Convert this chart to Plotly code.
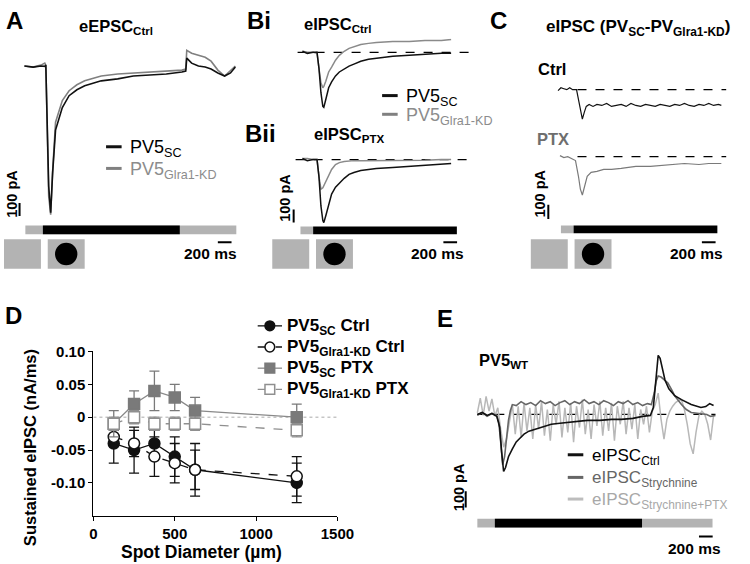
import plotly.graph_objects as go

W, H = 750, 564
FONT = "Liberation Sans, Arial, Helvetica, sans-serif"

# ======================= DATA =======================
# Panel A : eEPSC (Ctrl), time (ms) vs current (pA)
A_T = [-270, -142, -28, 28, 43, 64, 85, 114, 142, 185, 241, 284, 383, 497, 611, 852, 1093, 1321, 1562,
       1803, 2031, 2087, 2102, 2173, 2272, 2371, 2457, 2556, 2655, 2741, 2812]
A_SC = [8, 0, 8, 5, 15, -458, -908, -1110, -810, -480, -383, -308, -218, -173, -143, -105, -90, -68, -60,
        -53, -38, -30, 68, 30, 8, 0, -15, -45, -68, -45, 0]
A_KD = [8, 0, 15, 30, 15, -533, -983, -1125, -795, -420, -323, -255, -180, -135, -105, -68, -53, -45, -38,
        -30, -23, -15, 128, 105, 90, 75, 45, -23, -68, -30, 8]

# Panel B : eIPSC Ctrl (Bi) and PTX (Bii)
B_T = [-156, -85, 0, 57, 85, 114, 142, 156, 185, 227, 270, 327, 383, 454, 525, 596, 696, 809, 923, 1164,
       1406, 1633, 1874, 2016]
BI_SC = [8, -8, 0, 0, -120, -308, -413, -420, -360, -270, -225, -180, -150, -128, -105, -90, -68, -53, -45,
         -30, -23, -15, -8, -8]
BI_KD = [8, 0, 0, -8, -120, -233, -270, -260, -220, -150, -113, -60, -23, 8, 30, 45, 60, 68, 75, 83, 83,
         90, 90, 98]
BII_SC = [8, -8, 0, 0, -128, -353, -465, -480, -428, -338, -263, -210, -180, -143, -113, -98, -83, -75, -68,
          -60, -53, -45, -38, -30]
BII_KD = [8, 8, 0, 0, -128, -225, -215, -200, -160, -115, -75, -38, -23, -15, -10, -8, -8, -8, -8, -8, -8,
          -5, 0, 0]

# Panel C : eIPSC difference (PV_SC - PV_Glra1-KD)
C_CTRL_T = [-227, -185, -142, -99, -57, -14, 43, 71, 99, 128, 156, 185, 227, 284, 341, 412, 483, 554, 625,
            696, 767, 838, 909, 980, 1051, 1122, 1193, 1264, 1335, 1406, 1477, 1548, 1619, 1690, 1761,
            1832, 1903, 1974, 2045, 2116, 2158]
C_CTRL = [-7, 14, 7, 0, 14, 0, 0, -70, -161, -210, -161, -119, -105, -119, -105, -112, -98, -119, -112,
          -105, -119, -98, -112, -119, -105, -112, -119, -105, -112, -119, -105, -112, -98, -112, -119,
          -105, -112, -98, -112, -105, -112]
C_PTX_T = [-199, -142, -85, -28, 28, 71, 99, 128, 156, 199, 256, 341, 440, 554, 696, 909, 1122, 1335, 1619,
           1832, 1974, 2158]
C_PTX = [7, -7, 0, -14, -28, -140, -231, -273, -224, -140, -112, -105, -91, -91, -84, -70, -70, -63, -49,
         -56, -49, -49]

# Panel D : sustained eIPSC vs spot diameter
DIAM = [125, 250, 375, 500, 625, 1250]
SC_CTRL = [-0.04, -0.05, -0.04, -0.06, -0.08, -0.10]
SC_CTRL_ERR = [0.03, 0.035, 0.02, 0.03, 0.04, 0.03]
KD_CTRL = [-0.03, -0.04, -0.06, -0.07, -0.08, -0.09]
KD_CTRL_ERR = [0.01, 0.02, 0.03, 0.03, 0.03, 0.03]
SC_PTX = [-0.01, 0.02, 0.04, 0.03, 0.01, 0.00]
SC_PTX_ERR = [0.02, 0.02, 0.03, 0.02, 0.02, 0.02]
KD_PTX = [-0.01, 0.00, -0.01, -0.01, -0.01, -0.02]
KD_PTX_ERR = [0.01, 0.01, 0.01, 0.01, 0.01, 0.01]
D_XTICKS = [0, 500, 1000, 1500]
D_YTICKS = [-0.10, -0.05, 0, 0.05, 0.10]
D_YTICKTEXT = ["-0.10", "-0.05", "0", "0.05", "0.10"]
D_NAMES = ["PV5<sub>SC</sub> Ctrl", "PV5<sub>Glra1-KD</sub> Ctrl", "PV5<sub>SC</sub> PTX",
           "PV5<sub>Glra1-KD</sub> PTX"]

# Panel E : PV5 WT eIPSC
E_CTRL_T = [-256, -185, -114, -43, 28, 71, 99, 114, 128, 156, 199, 256, 312, 355, 426, 497, 596, 710, 824,
            951, 1065, 1207, 1349, 1534, 1704, 1846, 2016, 2158, 2272, 2315, 2357, 2386, 2414, 2457, 2485,
            2542, 2584, 2627, 2726, 2868, 3010, 3081, 3138, 3195]
E_CTRL = [0, 12, -6, 6, -12, -78, -228, -318, -348, -324, -258, -210, -168, -150, -120, -102, -90, -72, -60,
          -54, -48, -42, -36, -36, -30, -30, -24, -12, -6, 42, 252, 360, 342, 264, 210, 156, 132, 114, 90,
          60, 42, 48, 66, 54]
E_STRY_T = [-256, -185, -114, -43, 28, 57, 85, 114, 142, 170, 199, 227, 256, 312, 383, 454, 525, 596, 667,
            738, 809, 880, 951, 1022, 1093, 1164, 1235, 1306, 1377, 1448, 1519, 1590, 1661, 1732, 1803,
            1874, 1945, 2016, 2087, 2158, 2229, 2286, 2329, 2357, 2386, 2428, 2485, 2528, 2584, 2627,
            2726, 2797, 2868, 2982, 3096, 3152, 3223]
E_STRY = [-6, 12, -12, 6, -6, -48, -168, -306, -258, -138, -36, 24, 60, 54, 78, 60, 72, 54, 84, 66, 78, 54,
          72, 84, 60, 78, 66, 90, 66, 78, 60, 84, 72, 54, 78, 66, 84, 60, 72, 54, 66, 60, 132, 204, 234,
          228, 210, 192, 150, 114, 60, 30, 12, 6, 0, -12, -6]
E_SP_T = [-256, -213, -170, -128, -85, -43, 0, 43, 85, 128,
          170, 213, 256, 298, 341, 384, 426, 469, 511, 554,
          596, 639, 682, 724, 767, 810, 852, 895, 937, 980,
          1023, 1065, 1108, 1150, 1193, 1236, 1278, 1321, 1363, 1406,
          1449, 1491, 1534, 1576, 1619, 1662, 1704, 1747, 1789, 1832,
          1875, 1917, 1960, 2002, 2045, 2088, 2130, 2173, 2215, 2258,
          2300, 2343, 2386, 2428, 2471, 2513, 2556, 2598, 2641, 2684,
          2726, 2769, 2811, 2854, 2897, 2939, 2982, 3024, 3067, 3110,
          3152, 3195]
E_SP = [10, 100, -6, 110, 20, 95, -10, 40, -90, -200,
        -150, -40, 60, -120, 50, -140, 70, -100, 40, -150,
        60, -90, 80, -130, 30, -160, 60, -60, 80, -140,
        40, -110, 70, -170, 50, -80, 90, -120, 30, -150,
        60, -70, 80, -130, 40, -100, 70, -160, 50, -60,
        80, -120, 40, -90, 60, -150, 30, -60, 50, -110,
        20, 60, 130, -30, -150, -30, 20, 50, 72, 85,
        90, 30, -60, -180, -240, -108, -6, 20, 0, -60,
        -156, -6]

# stimulus timing (ms): [pre-window start, light on, light off, window end]
STIM_A = [-256, 0, 2000, 2826]
STIM_B = [-185, 0, 2100, 2100]
STIM_C = [-185, 0, 2100, 2100]
STIM_E = [-256, 0, 2150, 3180]
SCALE_MS = 200
SCALE_PA = 100

# ======================= HELPERS =======================
def px(x):
    return x / W


def py(y):
    return 1 - y / H


annotations = []
shapes = []


def ann(text, x, y, size, bold=True, color="black", xanchor="center", yanchor="middle", angle=0):
    if bold:
        text = "<b>" + text + "</b>"
    annotations.append(dict(text=text, x=px(x), y=py(y), xref="paper", yref="paper", showarrow=False,
                            xanchor=xanchor, yanchor=yanchor, textangle=angle,
                            font=dict(family=FONT, size=size, color=color)))


def rect(x0, y0, x1, y1, color, xref="paper", yref="paper", lcolor=None, lw=0):
    shapes.append(dict(type="rect", x0=x0, x1=x1, y0=y0, y1=y1, xref=xref, yref=yref,
                       line=dict(width=lw, color=lcolor or color), fillcolor=color))


def line(x0, y0, x1, y1, color="black", width=1.5, dash="solid", xref="paper", yref="paper", layer="above"):
    shapes.append(dict(type="line", x0=x0, x1=x1, y0=y0, y1=y1, xref=xref, yref=yref, layer=layer,
                       line=dict(color=color, width=width, dash=dash)))


STIMGRAY = "#b3b3b3"

fig = go.Figure()


def trace(t, v, xa, ya, color, width=1.5):
    fig.add_trace(go.Scatter(x=t, y=v, xaxis=xa, yaxis=ya, mode="lines", showlegend=False,
                             line=dict(color=color, width=width), hoverinfo="skip"))


# ======================= PANEL A =======================
trace(A_T, A_KD, "x", "y", "#808080", 1.6)
trace(A_T, A_SC, "x", "y", "#111111", 1.6)

# ======================= PANEL B =======================
trace(B_T, BI_KD, "x2", "y2", "#8a8a8a", 1.5)
trace(B_T, BI_SC, "x2", "y2", "#111111", 1.5)
trace(B_T, BII_KD, "x2", "y3", "#8a8a8a", 1.5)
trace(B_T, BII_SC, "x2", "y3", "#111111", 1.5)

# ======================= PANEL C =======================
trace(C_CTRL_T, C_CTRL, "x3", "y4", "#111111", 1.2)
trace(C_PTX_T, C_PTX, "x3", "y5", "#7a7a7a", 1.2)

# ======================= PANEL E =======================
trace(E_SP_T, E_SP, "x5", "y7", "#b8b8b8", 1.5)
trace(E_STRY_T, E_STRY, "x5", "y7", "#666666", 1.6)
trace(E_CTRL_T, E_CTRL, "x5", "y7", "#111111", 1.6)

# ======================= PANEL D =======================
D_STYLES = [
    # marker line colour, symbol, line dash, marker fill, line colour
    ("#111111", "circle", "solid", "#111111", "#111111"),
    ("#111111", "circle", "dash", "white", "#111111"),
    ("#7a7a7a", "square", "solid", "#7a7a7a", "#8a8a8a"),
    ("#8f8f8f", "square", "dash", "white", "#8f8f8f"),
]
D_SERIES = [(SC_CTRL, SC_CTRL_ERR), (KD_CTRL, KD_CTRL_ERR), (SC_PTX, SC_PTX_ERR), (KD_PTX, KD_PTX_ERR)]
for (yv, err), name, (mc, sym, dash, fill, lc) in zip(D_SERIES, D_NAMES, D_STYLES):
    fig.add_trace(go.Scatter(
        x=DIAM, y=yv, xaxis="x4", yaxis="y6", name=name, mode="lines+markers", showlegend=False,
        line=dict(color=lc, width=1.3, dash=dash),
        marker=dict(symbol=sym, size=11, color=fill, line=dict(color=mc, width=1.5)),
        error_y=dict(type="data", array=err, color=mc, thickness=1.3, width=5),
        cliponaxis=False, hoverinfo="skip"))

# zero reference line in D
line(0, 0, 1500, 0, color="#aaaaaa", width=1, dash="dot", xref="x4", yref="y6", layer="below")

# hand-built legend for D
for i, (name, (mc, sym, dash, fill, lc)) in enumerate(zip(D_NAMES, D_STYLES)):
    yy = 322 + i * 21.5
    line(px(261), py(yy), px(286), py(yy), color=lc, width=1.3, dash="dash" if dash == "dash" else "solid")
    shp = "circle" if sym == "circle" else "rect"
    shapes.append(dict(type=shp, xref="paper", yref="paper", x0=px(268.5), x1=px(278.5),
                       y0=py(yy + 5), y1=py(yy - 5), fillcolor=fill, line=dict(color=mc, width=1.5)))
    ann(name, 289, yy + 1, 17, xanchor="left")

# ======================= DECORATIONS =======================
# dashed zero baselines
line(-227, 0, 2272, 0, width=1.2, dash="dash", xref="x2", yref="y2", layer="below")
line(-256, 0, 2243, 0, width=1.2, dash="dash", xref="x2", yref="y3", layer="below")
line(57, 0, 2229, 0, width=1.2, dash="dash", xref="x3", yref="y4", layer="below")
line(57, 0, 2229, 0, width=1.2, dash="dash", xref="x3", yref="y5", layer="below")
line(-256, 0, 3223, 0, width=1.2, dash="dash", xref="x5", yref="y7", layer="below")


def stimbar(stim, xref, ytop, ybot):
    if stim[3] > stim[2]:
        rect(stim[0], py(ybot), stim[3], py(ytop), STIMGRAY, xref=xref)
    else:
        rect(stim[0], py(ybot), stim[1], py(ytop), STIMGRAY, xref=xref)
    rect(stim[1], py(ybot), stim[2], py(ytop), "black", xref=xref)


stimbar(STIM_A, "x", 220, 229)
stimbar(STIM_B, "x2", 221, 229)
stimbar(STIM_C, "x3", 220, 228)
stimbar(STIM_E, "x5", 518, 527)


def icons(xg, xc):
    rect(px(xg), py(264), px(xg + 38), py(234), STIMGRAY)
    rect(px(xc - 19), py(264), px(xc + 19), py(234), STIMGRAY)
    shapes.append(dict(type="circle", xref="paper", yref="paper", x0=px(xc - 11.5), x1=px(xc + 11.5),
                       y0=py(260.5), y1=py(237.5), fillcolor="black", line=dict(width=0)))


icons(0, 64)
icons(276, 340)
icons(542, 606)


# scale bars
def hscale(xref, t_end, ypix):
    line(t_end - SCALE_MS, py(ypix), t_end, py(ypix), width=2, xref=xref)


def vscale(xpix, yref, top):
    line(px(xpix), top, px(xpix), top - SCALE_PA, width=2, yref=yref)


hscale("x", 2756, 237)
hscale("x2", 2103, 237)
hscale("x3", 2074, 237)
hscale("x5", 3182, 536)
vscale(16, "y", -1035)
vscale(298, "y3", -380)
vscale(560, "y5", -343)
vscale(475, "y7", -468)

for (x, y) in [(212, 248), (446, 248), (712, 248), (710, 548)]:
    ann("200 ms", x, y, 15.5)
for (x, y) in [(8, 188), (289, 192), (551, 188), (468, 486)]:
    ann("100 pA", x, y, 14.5, angle=-90)

# panel letters and titles
ann("A", 11, 12, 24)
ann("Bi", 262, 12, 24)
ann("Bii", 264, 127, 24)
ann("C", 509, 12, 24)
ann("D", 10, 311, 24)
ann("E", 454, 315, 24)
ann("eEPSC<sub>Ctrl</sub>", 115, 18, 16.5)
ann("eIPSC<sub>Ctrl</sub>", 344, 16, 16.5)
ann("eIPSC<sub>PTX</sub>", 355, 128, 16.5)
ann("eIPSC (PV<sub>SC</sub>-PV<sub>Glra1-KD</sub>)", 652, 19, 17)
ann("Ctrl", 564, 61, 16.5)
ann("PTX", 565, 132, 16.5, color="#6e6e6e")
ann("PV5<sub>WT</sub>", 487, 358, 16.5, xanchor="left")


# legends for trace panels
def leg(xl, y, text, color, tcolor, size):
    line(px(xl), py(y), px(xl + 16), py(y), color=color, width=3)
    ann(text, xl + 23, y + 2, size, bold=False, color=tcolor, xanchor="left")


leg(105, 140, "PV5<sub>SC</sub>", "#111111", "black", 18)
leg(105, 162, "PV5<sub>Glra1-KD</sub>", "#808080", "#8c8c8c", 18)
leg(389, 88, "PV5<sub>SC</sub>", "#111111", "black", 18)
leg(389, 107, "PV5<sub>Glra1-KD</sub>", "#808080", "#8c8c8c", 18)
leg(580, 453, "eIPSC<sub>Ctrl</sub>", "#111111", "black", 17)
leg(580, 476, "eIPSC<sub>Strychnine</sub>", "#666666", "#666666", 17)
leg(580, 498, "eIPSC<sub>Strychnine+PTX</sub>", "#bdbdbd", "#a8a8a8", 17)

# D axis titles
ann("Sustained eIPSC (nA/ms)", 27, 446, 16.5, angle=-90)
ann("Spot Diameter (µm)", 203, 552, 17.5)

# ======================= LAYOUT =======================
hidden = dict(visible=False, fixedrange=True)
tickfont = dict(family=FONT, size=15, color="black", weight="bold")
fig.update_layout(
    width=W, height=H, margin=dict(l=0, r=0, t=0, b=0),
    paper_bgcolor="white", plot_bgcolor="rgba(0,0,0,0)",
    font=dict(family=FONT, color="black"),
    showlegend=False,
    xaxis=dict(domain=[px(15), px(245)], range=[-355, 2911], anchor="y", **hidden),
    yaxis=dict(domain=[py(230), py(25)], range=[-1282, 255], anchor="x", **hidden),
    xaxis2=dict(domain=[px(295), px(480)], range=[-327, 2300], anchor="y2", **hidden),
    yaxis2=dict(domain=[py(110), py(30)], range=[-495, 105], anchor="x2", **hidden),
    yaxis3=dict(domain=[py(220), py(135)], range=[-502, 135], anchor="x2", **hidden),
    xaxis3=dict(domain=[px(555), px(748)], range=[-440, 2300], anchor="y4", **hidden),
    yaxis4=dict(domain=[py(125), py(70)], range=[-301, 84], anchor="x3", **hidden),
    yaxis5=dict(domain=[py(215), py(140)], range=[-455, 70], anchor="x3", **hidden),
    xaxis5=dict(domain=[px(470), px(735)], range=[-497, 3266], anchor="y7", **hidden),
    yaxis7=dict(domain=[py(510), py(340)], range=[-588, 432], anchor="x5", **hidden),
    xaxis4=dict(domain=[px(92), px(343)], range=[0, 1500], anchor="y6", showline=True, linecolor="black",
                linewidth=1.3, ticks="outside", ticklen=4, tickcolor="black", tickwidth=1.3,
                tickvals=D_XTICKS, showgrid=False, zeroline=False, fixedrange=True, tickfont=tickfont),
    yaxis6=dict(domain=[py(515), py(348)], range=[-0.15, 0.10], anchor="x4", showline=True,
                linecolor="black", linewidth=1.3, ticks="outside", ticklen=4, tickcolor="black",
                tickwidth=1.3, tickvals=D_YTICKS, ticktext=D_YTICKTEXT, showgrid=False, zeroline=False,
                fixedrange=True, tickfont=tickfont),
    annotations=annotations, shapes=shapes,
)

fig.write_html("out.html", config={"displayModeBar": False},
               post_script="document.body.style.margin='0px';document.body.style.overflow='hidden';")
